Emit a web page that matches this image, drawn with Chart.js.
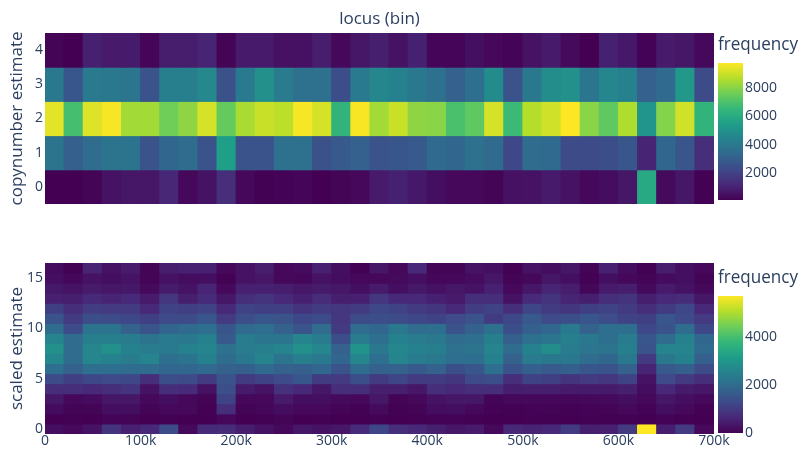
<!DOCTYPE html>
<html>
<head>
<meta charset="utf-8">
<script src="https://cdn.jsdelivr.net/npm/chart.js@4.4.1/dist/chart.umd.min.js"></script>
<style>
  html, body { margin: 0; padding: 0; background: #fff; width: 798px; height: 450px; overflow: hidden; }
  canvas { position: absolute; }
</style>
</head>
<body>
<canvas id="heatTop" width="716" height="216" style="left:0;top:0"></canvas>
<canvas id="heatBottom" width="740" height="230" style="left:0;top:230px"></canvas>
<canvas id="barTop" width="98" height="212" style="left:700px;top:0"></canvas>
<canvas id="barBottom" width="98" height="230" style="left:700px;top:230px"></canvas>
<script>
// ---- data -------------------------------------------------------------
// centres of the 20 kb locus bins
const locusBins = [10000, 30000, 50000, 70000, 90000, 110000, 130000, 150000, 170000, 190000,
  210000, 230000, 250000, 270000, 290000, 310000, 330000, 350000, 370000, 390000,
  410000, 430000, 450000, 470000, 490000, 510000, 530000, 550000, 570000, 590000,
  610000, 630000, 650000, 670000, 690000];
const locusTicks = [0, 100000, 200000, 300000, 400000, 500000, 600000, 700000];

// copynumber estimate (rows 0..4)
const copynumberLevels = [0, 1, 2, 3, 4];
const copynumberTicks = [0, 1, 2, 3, 4];
const copynumberFreq = [
  [90, 100, 190, 570, 670, 670, 1150, 280, 570, 1350, 280, 110, 140, 240, 95, 190, 280, 770, 960, 720, 480, 280, 280, 190, 530, 570, 770, 570, 280, 430, 670, 5900, 330, 670, 120],
  [3770, 2990, 3480, 3770, 3770, 2610, 3280, 3480, 2610, 5510, 2610, 2610, 3670, 3670, 2510, 2800, 3090, 2610, 2700, 2800, 3380, 3280, 3670, 3380, 2220, 3480, 3380, 2320, 2320, 2410, 2700, 1060, 3280, 2700, 1350],
  [9380, 6870, 9290, 9670, 8410, 8410, 7640, 8120, 9190, 7450, 8510, 8990, 8800, 9650, 9190, 6380, 9700, 8410, 8990, 8120, 8030, 6960, 7350, 9190, 6670, 8700, 9090, 9770, 8030, 7350, 8610, 5120, 7930, 9090, 6380],
  [3960, 2700, 4060, 3960, 3870, 2610, 4250, 4250, 4640, 2510, 4060, 4930, 4160, 3670, 3670, 2410, 4060, 4540, 4350, 3960, 3670, 3090, 3570, 4740, 2610, 3960, 4830, 4930, 3870, 4540, 4350, 3090, 3380, 5220, 2320],
  [190, 95, 960, 770, 820, 240, 860, 860, 1060, 190, 770, 770, 530, 530, 860, 280, 670, 910, 570, 960, 240, 240, 480, 280, 170, 570, 770, 330, 100, 960, 720, 140, 770, 670, 280]
];

// scaled estimate (rows 0..16)
const scaledLevels = [0, 1, 2, 3, 4, 5, 6, 7, 8, 9, 10, 11, 12, 13, 14, 15, 16];
const scaledTicks = [0, 5, 10, 15];
const scaledFreq = [
  [230, 110, 290, 860, 510, 630, 1310, 110, 680, 710, 460, 290, 110, 340, 290, 340, 680, 1200, 740, 630, 480, 340, 400, 110, 630, 570, 630, 1000, 480, 510, 970, 5700, 460, 970, 110],
  [0, 10, 0, 50, 60, 0, 10, 0, 0, 110, 0, 10, 60, 0, 10, 0, 0, 10, 0, 20, 40, 30, 10, 0, 0, 10, 20, 0, 10, 10, 20, 0, 30, 10, 0],
  [170, 60, 60, 200, 230, 60, 110, 110, 10, 740, 60, 90, 200, 110, 110, 60, 10, 140, 10, 60, 200, 230, 110, 30, 10, 30, 60, 10, 30, 60, 110, 30, 230, 110, 10],
  [340, 110, 170, 340, 340, 110, 230, 110, 60, 1140, 110, 110, 400, 230, 230, 140, 110, 340, 60, 110, 290, 340, 340, 60, 110, 110, 110, 90, 110, 140, 230, 110, 340, 230, 110],
  [740, 740, 630, 740, 860, 290, 740, 680, 260, 1370, 430, 290, 800, 630, 340, 740, 740, 480, 480, 340, 740, 630, 740, 740, 460, 480, 480, 400, 430, 430, 480, 200, 630, 430, 340],
  [1310, 1080, 1250, 1280, 1250, 740, 1370, 1310, 970, 1480, 1000, 1140, 1280, 1540, 1000, 970, 1370, 1000, 1200, 1000, 1000, 880, 1280, 1370, 740, 1140, 1080, 860, 970, 910, 1140, 290, 1280, 970, 740],
  [2050, 1770, 2050, 2050, 2000, 2000, 1880, 1880, 1940, 1770, 1710, 1940, 1770, 1710, 1880, 1480, 2000, 1770, 1770, 1600, 1770, 1370, 1540, 2050, 1480, 1710, 1600, 1710, 1540, 1480, 1770, 570, 1600, 1710, 1310],
  [2620, 2000, 2620, 2510, 2390, 2570, 2050, 2170, 2510, 2000, 2280, 2570, 2170, 2450, 2280, 1880, 2620, 2050, 2570, 2390, 2280, 2050, 2050, 2510, 1770, 2390, 2280, 2280, 2000, 1880, 2280, 970, 2280, 2510, 1710],
  [2850, 2000, 2620, 2850, 2510, 2390, 2340, 2510, 2570, 2110, 2390, 2450, 2570, 2850, 2620, 1770, 2910, 2280, 2620, 2510, 2450, 2110, 2170, 2570, 2000, 2510, 2790, 2390, 2220, 2170, 2450, 1480, 2570, 2570, 1940],
  [2570, 2000, 2450, 2450, 2390, 2170, 2340, 2280, 2510, 1600, 2390, 2220, 2220, 2570, 2390, 1370, 2390, 2050, 2510, 2390, 2280, 2000, 2050, 2450, 1710, 2110, 2220, 2450, 2280, 2050, 2390, 1540, 2000, 2510, 1880],
  [2000, 1310, 2170, 2170, 1770, 1480, 1820, 1940, 2050, 1540, 1940, 2050, 1770, 1480, 2000, 970, 2000, 1880, 2280, 2000, 2050, 1480, 1770, 2110, 1370, 1710, 1880, 2340, 1770, 2050, 2050, 1250, 1480, 2000, 1250],
  [1480, 1000, 1370, 1310, 1250, 1080, 1280, 1310, 1540, 970, 1340, 1540, 1480, 1250, 1310, 910, 1310, 1370, 1310, 1250, 1140, 1280, 1480, 1000, 1250, 1600, 1280, 1370, 1540, 1340, 1140, 1080, 1540, 1280, 970],
  [1080, 740, 1030, 970, 970, 630, 1140, 1080, 1140, 630, 1140, 1080, 1080, 860, 1000, 910, 1000, 1250, 1140, 1000, 880, 630, 1030, 1140, 740, 1200, 1000, 880, 1080, 1140, 1000, 740, 1000, 1250, 630],
  [510, 480, 630, 570, 630, 400, 910, 480, 680, 340, 740, 860, 630, 510, 710, 480, 510, 910, 630, 630, 510, 400, 740, 740, 290, 680, 860, 570, 480, 740, 860, 480, 630, 710, 340],
  [370, 290, 400, 340, 370, 140, 430, 290, 570, 110, 510, 510, 460, 340, 430, 340, 230, 400, 230, 370, 260, 340, 290, 510, 110, 340, 570, 460, 90, 400, 460, 140, 400, 290, 110],
  [230, 90, 290, 230, 290, 60, 290, 200, 230, 20, 290, 340, 110, 90, 290, 200, 110, 110, 140, 230, 90, 110, 170, 340, 60, 110, 340, 230, 10, 230, 110, 60, 170, 230, 60],
  [170, 10, 570, 290, 400, 60, 460, 510, 510, 110, 290, 460, 110, 170, 510, 230, 20, 340, 110, 630, 60, 60, 290, 230, 10, 290, 200, 340, 60, 510, 200, 10, 460, 230, 110]
];

const copynumberColorTicks = [2000, 4000, 6000, 8000];
const scaledColorTicks = [0, 2000, 4000];

// ---- styling helpers ----------------------------------------------------
const FONT = "'Open Sans', 'Liberation Sans', sans-serif";
const INK = '#2a3f5f';
Chart.defaults.font.family = FONT;
Chart.defaults.color = INK;

const VIRIDIS = [
  [0, '#440154'], [1 / 9, '#482878'], [2 / 9, '#3e4989'], [3 / 9, '#31688e'], [4 / 9, '#26828e'],
  [5 / 9, '#1f9e89'], [6 / 9, '#35b779'], [7 / 9, '#6ece58'], [8 / 9, '#b5de2b'], [1, '#fde725']
];
const hexRgb = h => [1, 3, 5].map(i => parseInt(h.substr(i, 2), 16));

function viridis(t) {
  t = Math.min(1, Math.max(0, t));
  for (let i = 1; i < VIRIDIS.length; i++) {
    if (t <= VIRIDIS[i][0]) {
      const [t0, c0] = VIRIDIS[i - 1], [t1, c1] = VIRIDIS[i];
      const f = (t - t0) / (t1 - t0);
      const a = hexRgb(c0), b = hexRgb(c1);
      const rgb = a.map((v, k) => Math.round(v + (b[k] - v) * f));
      return `rgb(${rgb[0]},${rgb[1]},${rgb[2]})`;
    }
  }
  return VIRIDIS[VIRIDIS.length - 1][1];
}

const fixedTicks = list => scale => { scale.ticks = list.map(v => ({ value: v })); };

// ---- heatmap: one floating bar per cell on a linear locus axis ----------
function heatmap(id, levels, freq, yTicks, yTitle, cfg) {
  const all = freq.flat();
  const zmin = Math.min(...all), zmax = Math.max(...all);
  const cells = [], colors = [];
  levels.forEach((lv, r) => {
    locusBins.forEach((bin, c) => {
      cells.push({ x: bin, y: [lv - 0.5, lv + 0.5] });
      colors.push(viridis((freq[r][c] - zmin) / (zmax - zmin)));
    });
  });

  new Chart(document.getElementById(id), {
    type: 'bar',
    data: {
      datasets: [{
        data: cells,
        backgroundColor: colors,
        borderWidth: 0,
        inflateAmount: 0.5,
        barPercentage: 1,
        categoryPercentage: 1
      }]
    },
    options: {
      responsive: false,
      animation: false,
      devicePixelRatio: 1,
      layout: { padding: cfg.padding },
      plugins: {
        legend: { display: false },
        tooltip: { enabled: false },
        title: cfg.title || { display: false }
      },
      scales: {
        x: {
          type: 'linear',
          min: 0,
          max: 700000,
          offset: false,
          display: cfg.showX,
          grid: { display: false, drawTicks: false },
          border: { display: false },
          afterBuildTicks: fixedTicks(locusTicks),
          afterFit: s => { s.height = cfg.xHeight; },
          ticks: {
            padding: 0,
            maxRotation: 0,
            autoSkip: false,
            font: { size: 14, lineHeight: 1 },
            color: INK,
            callback: v => (v === 0 ? '0' : (v / 1000) + 'k')
          }
        },
        y: {
          type: 'linear',
          min: levels[0] - 0.5,
          max: levels[levels.length - 1] + 0.5,
          grid: { display: false, drawTicks: false },
          border: { display: false },
          afterBuildTicks: fixedTicks(yTicks),
          afterFit: s => { s.width = 45; },
          ticks: { padding: 2, autoSkip: false, font: { size: 14 }, color: INK, callback: v => String(v) },
          title: {
            display: true,
            text: yTitle,
            color: INK,
            font: { size: 17 },
            padding: { top: 7, bottom: 0 }
          }
        }
      }
    }
  });
  return { zmin, zmax };
}

// ---- colour bar: a single floating bar filled with the colour scale -----
function colorbar(id, zmin, zmax, ticks, titlePadding, padding) {
  new Chart(document.getElementById(id), {
    type: 'bar',
    data: {
      labels: ['frequency'],
      datasets: [{
        data: [[zmin, zmax]],
        borderWidth: 0,
        inflateAmount: 0,
        barPercentage: 1,
        categoryPercentage: 1,
        backgroundColor: ctx => {
          const chart = ctx.chart;
          if (!chart.chartArea) return VIRIDIS[0][1];
          const ys = chart.scales.y;
          const g = chart.ctx.createLinearGradient(0, ys.getPixelForValue(zmin), 0, ys.getPixelForValue(zmax));
          VIRIDIS.forEach(([t, col]) => g.addColorStop(t, col));
          return g;
        }
      }]
    },
    options: {
      responsive: false,
      animation: false,
      devicePixelRatio: 1,
      layout: { padding },
      plugins: {
        legend: { display: false },
        tooltip: { enabled: false },
        title: {
          display: true,
          text: 'frequency',
          align: 'start',
          color: INK,
          font: { size: 17.5, weight: 'normal' },
          padding: titlePadding
        }
      },
      scales: {
        x: { display: false },
        y: {
          position: 'right',
          min: zmin,
          max: zmax,
          grid: { display: false, drawTicks: false },
          border: { display: false },
          afterBuildTicks: fixedTicks(ticks),
          afterFit: s => { s.width = 55; },
          ticks: { padding: 2, autoSkip: false, font: { size: 14 }, color: INK, callback: v => String(v) }
        }
      }
    }
  });
}

const topRange = heatmap('heatTop', copynumberLevels, copynumberFreq, copynumberTicks, 'copynumber estimate', {
  padding: { left: 0, right: 2, top: 0, bottom: 12 },
  showX: false,
  xHeight: 0,
  title: {
    display: true,
    text: 'locus (bin)',
    fullSize: false,
    color: INK,
    font: { size: 17, weight: 'normal' },
    padding: { top: 9, bottom: 3.6 }
  }
});

const bottomRange = heatmap('heatBottom', scaledLevels, scaledFreq, scaledTicks, 'scaled estimate', {
  padding: { left: 0, right: 26, top: 33, bottom: 0 },
  showX: true,
  xHeight: 26
});

colorbar('barTop', topRange.zmin, topRange.zmax, copynumberColorTicks,
  { top: 34.5, bottom: 7.5 }, { left: 18, right: 0, top: 0, bottom: 12 });
colorbar('barBottom', bottomRange.zmin, bottomRange.zmax, scaledColorTicks,
  { top: 37.5, bottom: 7.5 }, { left: 18, right: 0, top: 0, bottom: 27 });
</script>
</body>
</html>
